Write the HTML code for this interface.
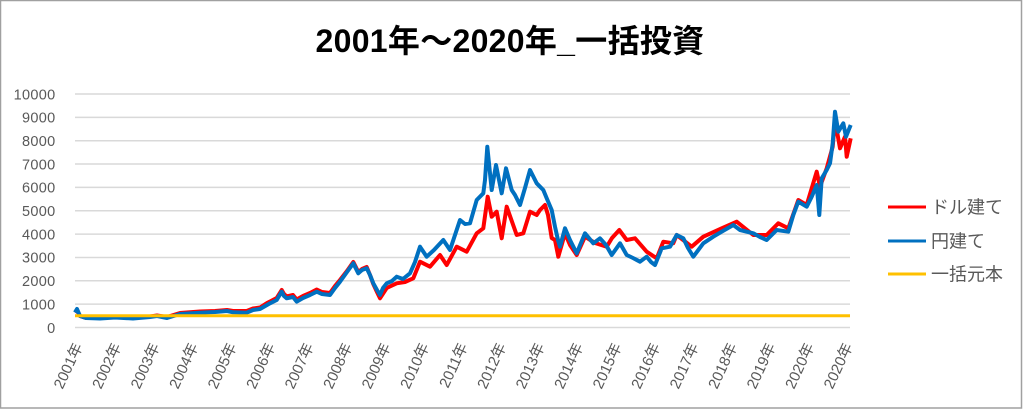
<!DOCTYPE html>
<html>
<head>
<meta charset="utf-8">
<style>
html,body{margin:0;padding:0;background:#fff;}
svg{display:block;}
text{font-family:"Liberation Sans","Noto Sans CJK JP",sans-serif;}
</style>
</head>
<body>
<svg width="1024" height="409" viewBox="0 0 1024 409" xmlns="http://www.w3.org/2000/svg">
<rect x="0" y="0" width="1024" height="409" fill="#fff"/>
<rect x="0.5" y="0.5" width="1021" height="407.5" fill="none" stroke="#a0a0a0" stroke-width="1.5"/>

<!-- title -->
<text x="510" y="52" text-anchor="middle" font-size="32" font-weight="bold" fill="#000" letter-spacing="0.3">2001年～2020年_一括投資</text>

<!-- gridlines -->
<g stroke="#d9d9d9" stroke-width="1.5">
<line x1="75" x2="850" y1="327.5" y2="327.5"/>
<line x1="75" x2="850" y1="304.15" y2="304.15"/>
<line x1="75" x2="850" y1="280.8" y2="280.8"/>
<line x1="75" x2="850" y1="257.45" y2="257.45"/>
<line x1="75" x2="850" y1="234.1" y2="234.1"/>
<line x1="75" x2="850" y1="210.75" y2="210.75"/>
<line x1="75" x2="850" y1="187.4" y2="187.4"/>
<line x1="75" x2="850" y1="164.05" y2="164.05"/>
<line x1="75" x2="850" y1="140.7" y2="140.7"/>
<line x1="75" x2="850" y1="117.35" y2="117.35"/>
<line x1="75" x2="850" y1="94" y2="94"/>
</g>

<!-- y labels -->
<g font-size="14.5" fill="#595959" text-anchor="end" letter-spacing="0.3">
<text x="55.5" y="332.8">0</text>
<text x="55.5" y="309.4">1000</text>
<text x="55.5" y="286.1">2000</text>
<text x="55.5" y="262.7">3000</text>
<text x="55.5" y="239.4">4000</text>
<text x="55.5" y="216">5000</text>
<text x="55.5" y="192.7">6000</text>
<text x="55.5" y="169.3">7000</text>
<text x="55.5" y="146">8000</text>
<text x="55.5" y="122.6">9000</text>
<text x="55.5" y="99.3">10000</text>
</g>

<!-- x labels -->
<g font-size="15" fill="#595959" text-anchor="end">
<text transform="translate(83,346) rotate(-65)">2001年</text>
<text transform="translate(121.5,346) rotate(-65)">2002年</text>
<text transform="translate(160,346) rotate(-65)">2003年</text>
<text transform="translate(198.5,346) rotate(-65)">2004年</text>
<text transform="translate(237,346) rotate(-65)">2005年</text>
<text transform="translate(275.5,346) rotate(-65)">2006年</text>
<text transform="translate(314,346) rotate(-65)">2007年</text>
<text transform="translate(352.5,346) rotate(-65)">2008年</text>
<text transform="translate(391,346) rotate(-65)">2009年</text>
<text transform="translate(429.5,346) rotate(-65)">2010年</text>
<text transform="translate(468,346) rotate(-65)">2011年</text>
<text transform="translate(506.5,346) rotate(-65)">2012年</text>
<text transform="translate(545,346) rotate(-65)">2013年</text>
<text transform="translate(583.5,346) rotate(-65)">2014年</text>
<text transform="translate(622,346) rotate(-65)">2015年</text>
<text transform="translate(660.5,346) rotate(-65)">2016年</text>
<text transform="translate(699,346) rotate(-65)">2017年</text>
<text transform="translate(737.5,346) rotate(-65)">2018年</text>
<text transform="translate(776,346) rotate(-65)">2019年</text>
<text transform="translate(814.5,346) rotate(-65)">2020年</text>
<text transform="translate(853,346) rotate(-65)">2020年</text>
</g>

<!-- red series -->
<polyline fill="none" stroke="#ff0000" stroke-width="4" stroke-linejoin="round" points="
75,312.5 77,310 80,316 86,318 100,318 115,317 133,318 150,316.5 157,315.5 167,317 180,313 200,311.5 215,311 227,310 233,311 246.7,311 253,308.5 260,307.5 267,303 270,301.5 276.7,298 281.7,290 284,294 286.7,296.5 293,295 296.7,299.5 303,296 310,293 316.7,289.5 322,292 330,293 335,286 340,280 347,271 353.3,262 358.3,272 362,269 366.7,267 370,275 373.3,284 377,292 380,298.3 386.7,288 396.7,283.3 405,282 413.3,278.3 420,261.7 430,266.7 440,255 446.7,265 456.7,246.7 466.7,251.7 476.7,233.3 483.3,228.3 487.7,196.7 491.7,216.7 496.7,211.7 501.7,238.3 506.7,206.7 516.7,235 523.3,233.3 530,211.7 536.7,215 540,210 545,205 548,215 551.7,238 555,240 558.3,256.7 565,233.3 570,245 576.7,255 585,236.7 595,243 606.7,246.7 612,238 619.3,230 626.7,240 635,238.3 646.7,251.7 656.7,258.3 663.3,241.7 673.3,243.3 676.7,235 691.7,246.7 703.3,236.7 721.7,228.3 736.7,221.7 753.3,235 766.7,235 778.3,223.3 788.3,228.3 798.3,200 806.7,205 816.7,171.7 820,186.7 826.7,168.3 832.7,146.7 835,120 840,148.3 845,136.7 846.7,156.7 850.7,138.3"/>

<!-- blue series -->
<polyline fill="none" stroke="#0070c0" stroke-width="4" stroke-linejoin="round" points="
75,312.5 77,309 80,316 86,318 100,318.5 115,317.5 133,318.5 150,317 157,316 167,318 180,314 200,312.7 215,312 227,311 233,312.3 246.7,312.7 253,310 260,309 267,305 270,303.3 276.7,300 281.7,291.7 284,296 286.7,298.3 293,297 296.7,301.7 303,298 310,295 316.7,291.7 322,294 330,295 335,288 340,281.7 347,272 353.3,263.3 358.3,273.3 362,270 366.7,268.3 370,275 373.3,283.3 377,290 380,295 383,288 386.7,283.3 392,281 396.7,276.7 403,279 410,273.3 415,262 420,246.7 426.7,256.7 434,250 443.3,240 450,250 455,235 460,220 465,224 470,223.3 476.7,200 483.3,193.3 485,180 487.3,146.7 491.7,190 496,165 501.7,193.3 506,168.3 511.7,190 515,195 520,205 525,188 530,170 536.7,183.3 540,186.7 543.3,190 546.7,198.3 551.7,210 555,226.7 558,240 560,246.7 565,228.3 570,240 576.7,253.3 585,233.3 593.3,243.3 600,238.3 606,245 611.7,255 620,243.3 626.7,255 633,258 640,261.7 646.7,256.7 651,262 655,265 661.7,248.3 670,246.7 676.7,235 683.3,238.3 688,248 693.3,256.7 703.3,243.3 713.3,236.7 721.7,231.7 733.3,225 740,230 753.3,233.3 760,237 766.7,240 776.7,230 788.3,231.7 793.3,215 798.3,201.7 806.7,206.7 811.7,196.7 816.7,185 819.3,215 821.7,178.3 826.7,170 830,163.3 832.7,143.3 835,111.7 838.3,131.7 843.3,123.3 846,136.7 850.7,125"/>

<!-- yellow principal -->
<line x1="75" x2="850" y1="315.8" y2="315.8" stroke="#ffc000" stroke-width="3"/>

<!-- legend -->
<line x1="888" x2="926" y1="207" y2="207" stroke="#ff0000" stroke-width="3"/>
<line x1="888" x2="926" y1="241" y2="241" stroke="#0070c0" stroke-width="3"/>
<line x1="888" x2="926" y1="274" y2="274" stroke="#ffc000" stroke-width="3"/>
<g font-size="18" fill="#595959">
<text x="931" y="213.5">ドル建て</text>
<text x="931" y="247.5">円建て</text>
<text x="931" y="280.5">一括元本</text>
</g>
</svg>
</body>
</html>
